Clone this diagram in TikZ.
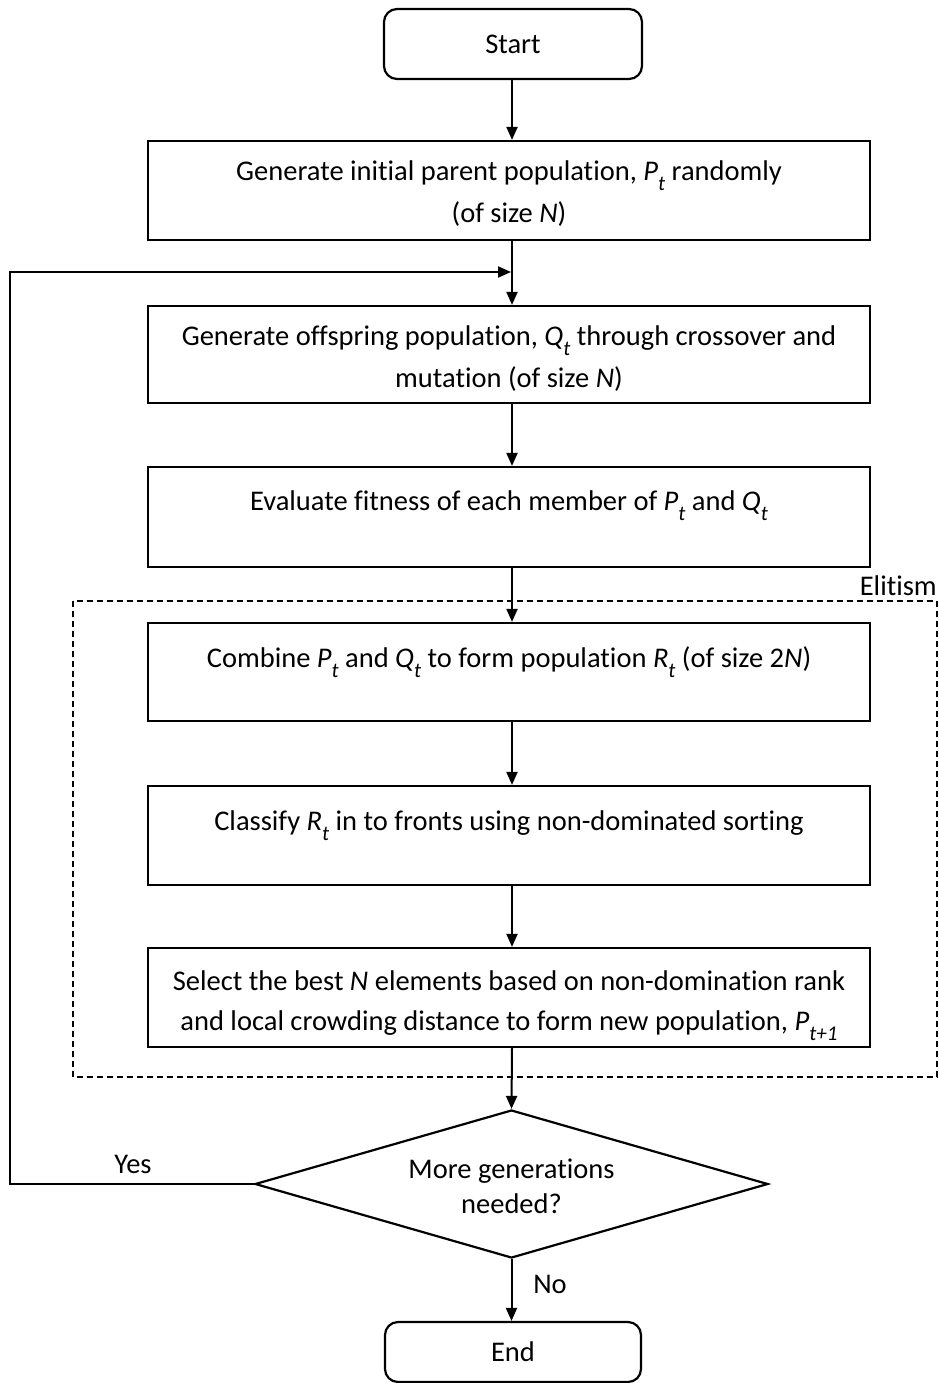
\documentclass[tikz,border=0pt]{standalone}
\usepackage{fontspec}
\setmainfont{Carlito}[Ligatures=NoCommon]
\usetikzlibrary{arrows.meta,shapes.geometric}
\newcommand\lsub[1]{\raisebox{-0.36em}{\fontsize{21}{21}\selectfont\itshape #1}}
\newcommand\fst{\rule{0pt}{21pt}}
\begin{document}
\begin{tikzpicture}[x=1pt,y=-1pt,
  box/.style={draw,line width=2.2pt,rectangle,inner sep=0pt,minimum width=722pt},
  term/.style={draw,line width=2.2pt,rectangle,rounded corners=13pt,inner sep=0pt,
     font=\fontsize{28.5}{30}\selectfont},
  txt/.style={inner sep=0pt,align=center,font=\fontsize{28.5}{42}\selectfont},
  lab/.style={inner sep=0pt,font=\fontsize{28.5}{30}\selectfont},
  arr/.style={line width=2pt,-{Triangle[length=13pt,width=11pt]}},
  dia/.style={draw,line width=2.2pt,diamond,inner sep=0pt},
  elit/.style={draw,line width=1.3pt,dash pattern=on 6pt off 4pt}
]
\useasboundingbox (0,0) rectangle (938,1383);
\coordinate (ax) at (512,0);
\coordinate (lc) at (10,272);

\node[term,minimum width=258pt,minimum height=70pt] (start) at (513,44) {Start};

\node[box,minimum height=99pt] (b1) at (509,190.5) {};
\node[txt,anchor=north] (t1) at (509,159) {\fst Generate initial parent population, \textit{P}\lsub{t} randomly\\(of size \textit{N})};

\node[box,minimum height=97pt] (b2) at (509,354.5) {};
\node[txt,anchor=north] (t2) at (509,324) {\fst Generate offspring population, \textit{Q}\lsub{t} through crossover and\\mutation (of size \textit{N})};

\node[box,minimum height=100pt] (b3) at (509,517) {};
\node[txt,anchor=north] (t3) at (509,489) {\fst Evaluate fitness of each member of \textit{P}\lsub{t} and \textit{Q}\lsub{t}};

\node[box,minimum height=98pt] (b4) at (509,672) {};
\node[txt,anchor=north] (t4) at (509,646) {\fst Combine \textit{P}\lsub{t} and \textit{Q}\lsub{t} to form population \textit{R}\lsub{t} (of size 2\textit{N})};

\node[box,minimum height=99pt] (b5) at (509,835.5) {};
\node[txt,anchor=north] (t5) at (509,809) {\fst Classify \textit{R}\lsub{t} in to fronts using non-dominated sorting};

\node[box,minimum height=99pt] (b6) at (509,997.5) {};
\node[txt,anchor=north,font=\fontsize{28.5}{40}\selectfont] (t6) at (509,969) {\fst Select the best \textit{N} elements based on non-domination rank\\and local crowding distance to form new population, \textit{P}\lsub{t+1}};

\node[dia,minimum width=513pt,minimum height=148pt] (d) at (511.5,1184) {};
\node[txt,anchor=north,font=\fontsize{28.5}{35}\selectfont] (td) at (511.5,1157) {\fst More generations\\needed?};

\node[term,minimum width=256pt,minimum height=60pt] (end) at (513,1352) {\raisebox{-3pt}{End}};

\draw[elit] (73,601) rectangle (937,1077);
\node[lab,anchor=base east] (elitism) at (937,595) {Elitism};

\draw[arr] (start.south -| ax) -- (b1.north -| ax);
\draw[arr] (b1.south -| ax) -- (b2.north -| ax);
\draw[arr] (b2.south -| ax) -- (b3.north -| ax);
\draw[arr] (b3.south -| ax) -- (b4.north -| ax);
\draw[arr] (b4.south -| ax) -- (b5.north -| ax);
\draw[arr] (b5.south -| ax) -- (b6.north -| ax);
\draw[arr] (b6.south -| ax) -- (d.north);
\draw[arr] (d.south) -- (end.north -| d.south);
\draw[arr] (d.west) -| (lc) -- ([xshift=-1pt]ax |- lc);

\node[lab,anchor=base] (yes) at (133,1173) {Yes};
\node[lab,anchor=base] (no) at (550,1293) {No};
\end{tikzpicture}
\end{document}
